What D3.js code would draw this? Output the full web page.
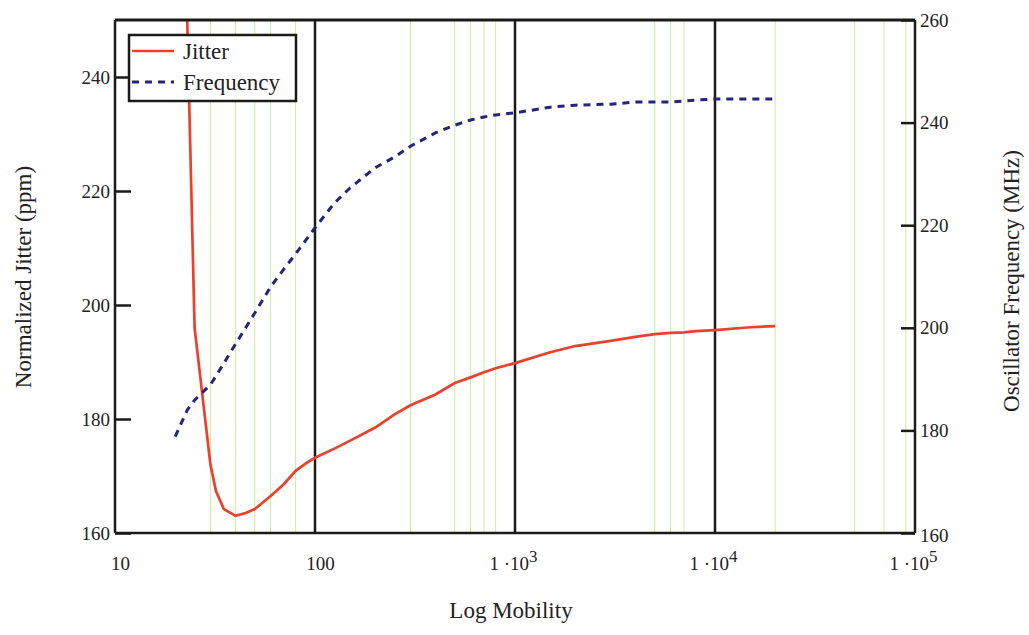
<!DOCTYPE html>
<html>
<head>
<meta charset="utf-8">
<script src="https://cdn.jsdelivr.net/npm/d3@7"></script>
<style>
  body { margin: 0; background: #fff; }
  svg { display: block; font-family: 'Liberation Serif', 'Times New Roman', serif; }
</style>
</head>
<body>
<svg></svg>
<script>
const width = 1029;
const height = 635;

// log mobility sample points
const mobility = [20, 23, 25, 30, 32, 35, 40, 45, 50, 60, 70, 80, 90, 100, 125, 150, 200, 250, 300, 400, 500,
  600, 700, 800, 1000, 1500, 2000, 3000, 4000, 5000, 6000, 7000, 8000, 10000, 15000, 20000];
// normalized jitter (ppm), left axis
const jitter = [330, 249, 196, 172, 167.3, 164.2, 163, 163.5, 164.2, 166.5, 168.6, 170.9, 172.2, 173.2, 174.8,
  176.2, 178.5, 180.8, 182.4, 184.3, 186.3, 187.3, 188.2, 188.9, 189.8, 191.7, 192.8, 193.7, 194.4, 194.9,
  195.1, 195.2, 195.4, 195.6, 196.1, 196.3];
// oscillator frequency (MHz), right axis
const frequency = [178.8, 184.0, 185.9, 188.9, 190.6, 193.1, 196.8, 200.0, 202.9, 208.0, 211.5, 214.4, 217.1,
  219.5, 224.3, 227.3, 231.2, 233.3, 235.4, 238.0, 239.5, 240.5, 241.1, 241.5, 241.9, 243.0, 243.4, 243.6,
  244.0, 244.0, 244.0, 244.2, 244.4, 244.6, 244.6, 244.6];

const xTicks = [10, 100, 1e3, 1e4, 1e5];
const majorGrid = [100, 1e3, 1e4];
const minorGrid = [30, 40, 50, 60, 80, 300, 500, 600, 700, 800, 5000, 6000, 7000, 20000, 50000, 70000, 90000];
const leftTicks = [160, 180, 200, 220, 240];
const rightTicks = [160, 180, 200, 220, 240, 260];

const svg = d3.select('svg')
  .attr('width', width)
  .attr('height', height);

const box = { left: 115, right: 915, top: 20, bottom: 533 };

const x = d3.scaleLog().domain([10, 1e5]).range([box.left, box.right]);
const yL = d3.scaleLinear().domain([160, 250]).range([box.bottom, box.top]);
const yR = d3.scaleLinear().domain([160, 260]).range([box.bottom, box.top]);

svg.append('defs').append('clipPath')
  .attr('id', 'plot')
  .append('rect')
  .attr('x', box.left).attr('y', box.top)
  .attr('width', box.right - box.left).attr('height', box.bottom - box.top);

// minor grid
svg.append('g')
  .selectAll('line')
  .data(minorGrid)
  .enter().append('line')
  .attr('x1', d => x(d)).attr('x2', d => x(d))
  .attr('y1', box.top).attr('y2', box.bottom)
  .attr('stroke', '#d2ea9c')
  .attr('stroke-width', 1);

// major grid
svg.append('g')
  .selectAll('line')
  .data(majorGrid)
  .enter().append('line')
  .attr('x1', d => x(d)).attr('x2', d => x(d))
  .attr('y1', box.top).attr('y2', box.bottom)
  .attr('stroke', '#1a1a1a')
  .attr('stroke-width', 2.5);

const points = mobility.map((m, i) => ({ m, j: jitter[i], f: frequency[i] }));

const plot = svg.append('g').attr('clip-path', 'url(#plot)');

plot.append('path')
  .datum(points)
  .attr('fill', 'none')
  .attr('stroke', '#e8412c')
  .attr('stroke-width', 2.7)
  .attr('d', d3.line().x(d => x(d.m)).y(d => yL(d.j)));

plot.append('path')
  .datum(points)
  .attr('fill', 'none')
  .attr('stroke', '#25247a')
  .attr('stroke-width', 3)
  .attr('stroke-dasharray', '7,6')
  .attr('d', d3.line().x(d => x(d.m)).y(d => yR(d.f)));

// frame
const frame = svg.append('g')
  .attr('stroke', '#1a1a1a')
  .attr('fill', 'none');
frame.append('line').attr('x1', box.left).attr('x2', box.right).attr('y1', box.top).attr('y2', box.top).attr('stroke-width', 3);
frame.append('line').attr('x1', box.left).attr('x2', box.right).attr('y1', box.bottom).attr('y2', box.bottom).attr('stroke-width', 2.5);
frame.append('line').attr('x1', box.left).attr('x2', box.left).attr('y1', box.top).attr('y2', box.bottom).attr('stroke-width', 2.5);
frame.append('line').attr('x1', box.right).attr('x2', box.right).attr('y1', box.top).attr('y2', box.bottom).attr('stroke-width', 2.5);

// left axis
const axL = svg.append('g')
  .attr('transform', `translate(${box.left},0)`)
  .call(d3.axisLeft(yL).tickValues(leftTicks).tickSize(-16).tickPadding(5));
axL.select('.domain').remove();
axL.selectAll('line').attr('stroke', '#1a1a1a').attr('stroke-width', 2.5);
axL.selectAll('text').attr('font-size', 19).attr('font-family', 'Liberation Serif').attr('fill', '#222');

// right axis
const axR = svg.append('g')
  .attr('transform', `translate(${box.right},0)`)
  .call(d3.axisRight(yR).tickValues(rightTicks).tickSize(-14).tickPadding(5));
axR.select('.domain').remove();
axR.selectAll('line').attr('stroke', '#1a1a1a').attr('stroke-width', 2.5);
axR.selectAll('text').attr('font-size', 19).attr('font-family', 'Liberation Serif').attr('fill', '#222')
  .attr('dy', d => d === 160 ? '0.45em' : '0.32em');

// bottom axis
const axB = svg.append('g')
  .attr('transform', `translate(0,${box.bottom})`)
  .call(d3.axisBottom(x).tickValues(xTicks).tickSize(0).tickPadding(24).tickFormat(''));
axB.select('.domain').remove();
axB.selectAll('text')
  .attr('font-size', 19)
  .attr('font-family', 'Liberation Serif')
  .attr('fill', '#222')
  .each(function (d) {
    const t = d3.select(this);
    const p = Math.round(Math.log10(d));
    if (p < 3) {
      t.attr('dx', 5).text(String(d));
    } else {
      t.attr('dx', -2);
      t.append('tspan').text('1 \u00B710');
      t.append('tspan').attr('dy', -8).attr('font-size', 17).text(p);
    }
  });

// axis titles
svg.append('text')
  .attr('x', 511).attr('y', 618)
  .attr('text-anchor', 'middle')
  .attr('font-size', 23)
  .attr('fill', '#222')
  .text('Log Mobility');

svg.append('text')
  .attr('transform', 'translate(31,277) rotate(-90)')
  .attr('text-anchor', 'middle')
  .attr('font-size', 23)
  .attr('fill', '#222')
  .text('Normalized Jitter (ppm)');

svg.append('text')
  .attr('transform', 'translate(1019,281) rotate(-90)')
  .attr('text-anchor', 'middle')
  .attr('font-size', 23)
  .attr('fill', '#222')
  .text('Oscillator Frequency (MHz)');

// legend
const legendItems = ['Jitter', 'Frequency'];
const legend = svg.append('g');
legend.append('rect')
  .attr('x', 129).attr('y', 35)
  .attr('width', 167).attr('height', 66)
  .attr('fill', '#fff')
  .attr('stroke', '#1a1a1a')
  .attr('stroke-width', 2.5);
const item = legend.selectAll('.item')
  .data(legendItems)
  .enter().append('g')
  .attr('class', 'item')
  .attr('transform', (d, i) => `translate(0,${51 + i * 31})`);
item.append('line')
  .attr('x1', 132).attr('x2', 174)
  .attr('stroke', (d, i) => i === 0 ? '#e8412c' : '#25247a')
  .attr('stroke-width', (d, i) => i === 0 ? 2.5 : 3)
  .attr('stroke-dasharray', (d, i) => i === 0 ? null : '7,6');
item.append('text')
  .attr('x', 183).attr('y', 8)
  .attr('font-size', 23)
  .attr('fill', '#222')
  .text(d => d);
</script>
</body>
</html>
